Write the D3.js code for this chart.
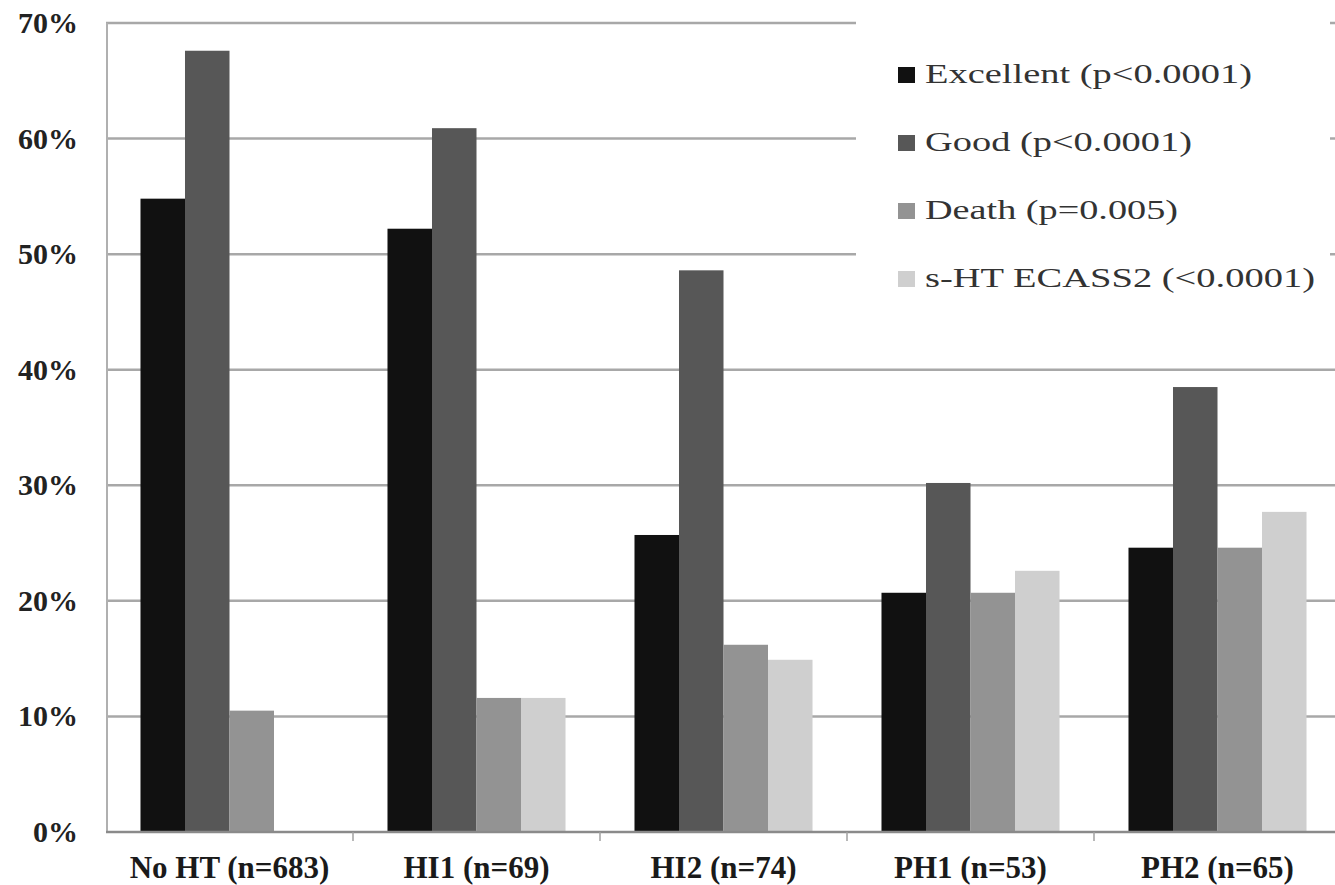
<!DOCTYPE html>
<html>
<head>
<meta charset="utf-8">
<script src="https://cdn.jsdelivr.net/npm/d3@7"></script>
<style>
  html, body { margin: 0; padding: 0; background: #fff; }
  svg { display: block; }
</style>
</head>
<body>
<svg id="chart" width="1335" height="885"></svg>
<script>
const categories = ["No HT (n=683)", "HI1 (n=69)", "HI2 (n=74)", "PH1 (n=53)", "PH2 (n=65)"];
const seriesNames = ["Excellent (p<0.0001)", "Good (p<0.0001)", "Death (p=0.005)", "s-HT ECASS2 (<0.0001)"];
const excellent = [54.8, 52.2, 25.7, 20.7, 24.6];
const good      = [67.6, 60.9, 48.6, 30.2, 38.5];
const death     = [10.5, 11.6, 16.2, 20.7, 24.6];
const sht       = [0,    11.6, 14.9, 22.6, 27.7];
const yTicks = [0, 10, 20, 30, 40, 50, 60, 70];
const colors = ["#111111", "#575757", "#939393", "#cfcfcf"];

const seriesValues = [excellent, good, death, sht];

const svg = d3.select("#chart");
const pLeft = 106, pRight = 1341, pTop = 23, pBottom = 832;

const x0 = d3.scaleBand().domain(categories).range([pLeft, pRight]).paddingInner(0).paddingOuter(0);
const x1 = d3.scaleBand().domain(d3.range(4)).range([0, x0.bandwidth()]).paddingInner(0).paddingOuter(0.775);
const y = d3.scaleLinear().domain([0, 70]).range([pBottom, pTop]);

// gridlines
svg.append("g").selectAll("line").data(yTicks.filter(d => d > 0)).join("line")
  .attr("x1", pLeft).attr("x2", 1335)
  .attr("y1", d => y(d)).attr("y2", d => y(d))
  .attr("stroke", "#a8a8a8").attr("stroke-width", 2.5);

// y axis line
svg.append("line").attr("x1", pLeft + 1).attr("x2", pLeft + 1).attr("y1", pTop).attr("y2", pBottom)
  .attr("stroke", "#b0b0b0").attr("stroke-width", 2);

// bars
const groups = svg.append("g").selectAll("g").data(categories).join("g")
  .attr("transform", d => `translate(${x0(d)},0)`);
groups.selectAll("rect").data((d, i) => seriesValues.map((s, k) => ({k, v: s[i]}))).join("rect")
  .attr("x", d => x1(d.k))
  .attr("width", x1.bandwidth())
  .attr("y", d => y(d.v))
  .attr("height", d => y(0) - y(d.v))
  .attr("fill", d => colors[d.k]);

// x axis
const xAxis = svg.append("g").attr("transform", `translate(0,${pBottom})`);
xAxis.append("line").attr("x1", pLeft).attr("x2", 1335).attr("y1", 0).attr("y2", 0)
  .attr("stroke", "#8a8a8a").attr("stroke-width", 2.5);
xAxis.selectAll("line.tick").data(categories.slice(1)).join("line").attr("class", "tick")
  .attr("x1", d => x0(d)).attr("x2", d => x0(d)).attr("y1", 0).attr("y2", 9)
  .attr("stroke", "#a0a0a0").attr("stroke-width", 1.5);
xAxis.selectAll("text").data(categories).join("text")
  .attr("x", d => x0(d) + x0.bandwidth() / 2)
  .attr("y", 46)
  .attr("text-anchor", "middle")
  .attr("font-family", "Liberation Serif, Times New Roman, serif")
  .attr("font-weight", "bold")
  .attr("font-size", 31)
  .attr("fill", "#1a1a1a")
  .text(d => d);

// y labels
svg.append("g").selectAll("text").data(yTicks).join("text")
  .attr("x", 78).attr("y", d => y(d) + 10)
  .attr("text-anchor", "end")
  .attr("font-family", "Liberation Serif, Times New Roman, serif")
  .attr("font-weight", "bold")
  .attr("font-size", 30)
  .attr("fill", "#222")
  .text(d => d + "%");

// legend box
svg.append("rect").attr("x", 856).attr("y", 0).attr("width", 474).attr("height", 320).attr("fill", "#fff");

const legendWidths = [327, 267, 253, 390];
const lg = svg.append("g").selectAll("g").data(seriesNames).join("g")
  .attr("transform", (d, i) => `translate(898,${83 + i * 68})`);
lg.append("rect").attr("x", 0).attr("y", -16).attr("width", 17).attr("height", 16)
  .attr("fill", (d, i) => colors[i]);
lg.append("text").attr("x", 27).attr("y", 0)
  .attr("font-family", "Liberation Serif, Times New Roman, serif")
  .attr("font-size", 28)
  .attr("fill", "#333")
  .attr("textLength", (d, i) => legendWidths[i])
  .attr("lengthAdjust", "spacingAndGlyphs")
  .text(d => d);
</script>
</body>
</html>
